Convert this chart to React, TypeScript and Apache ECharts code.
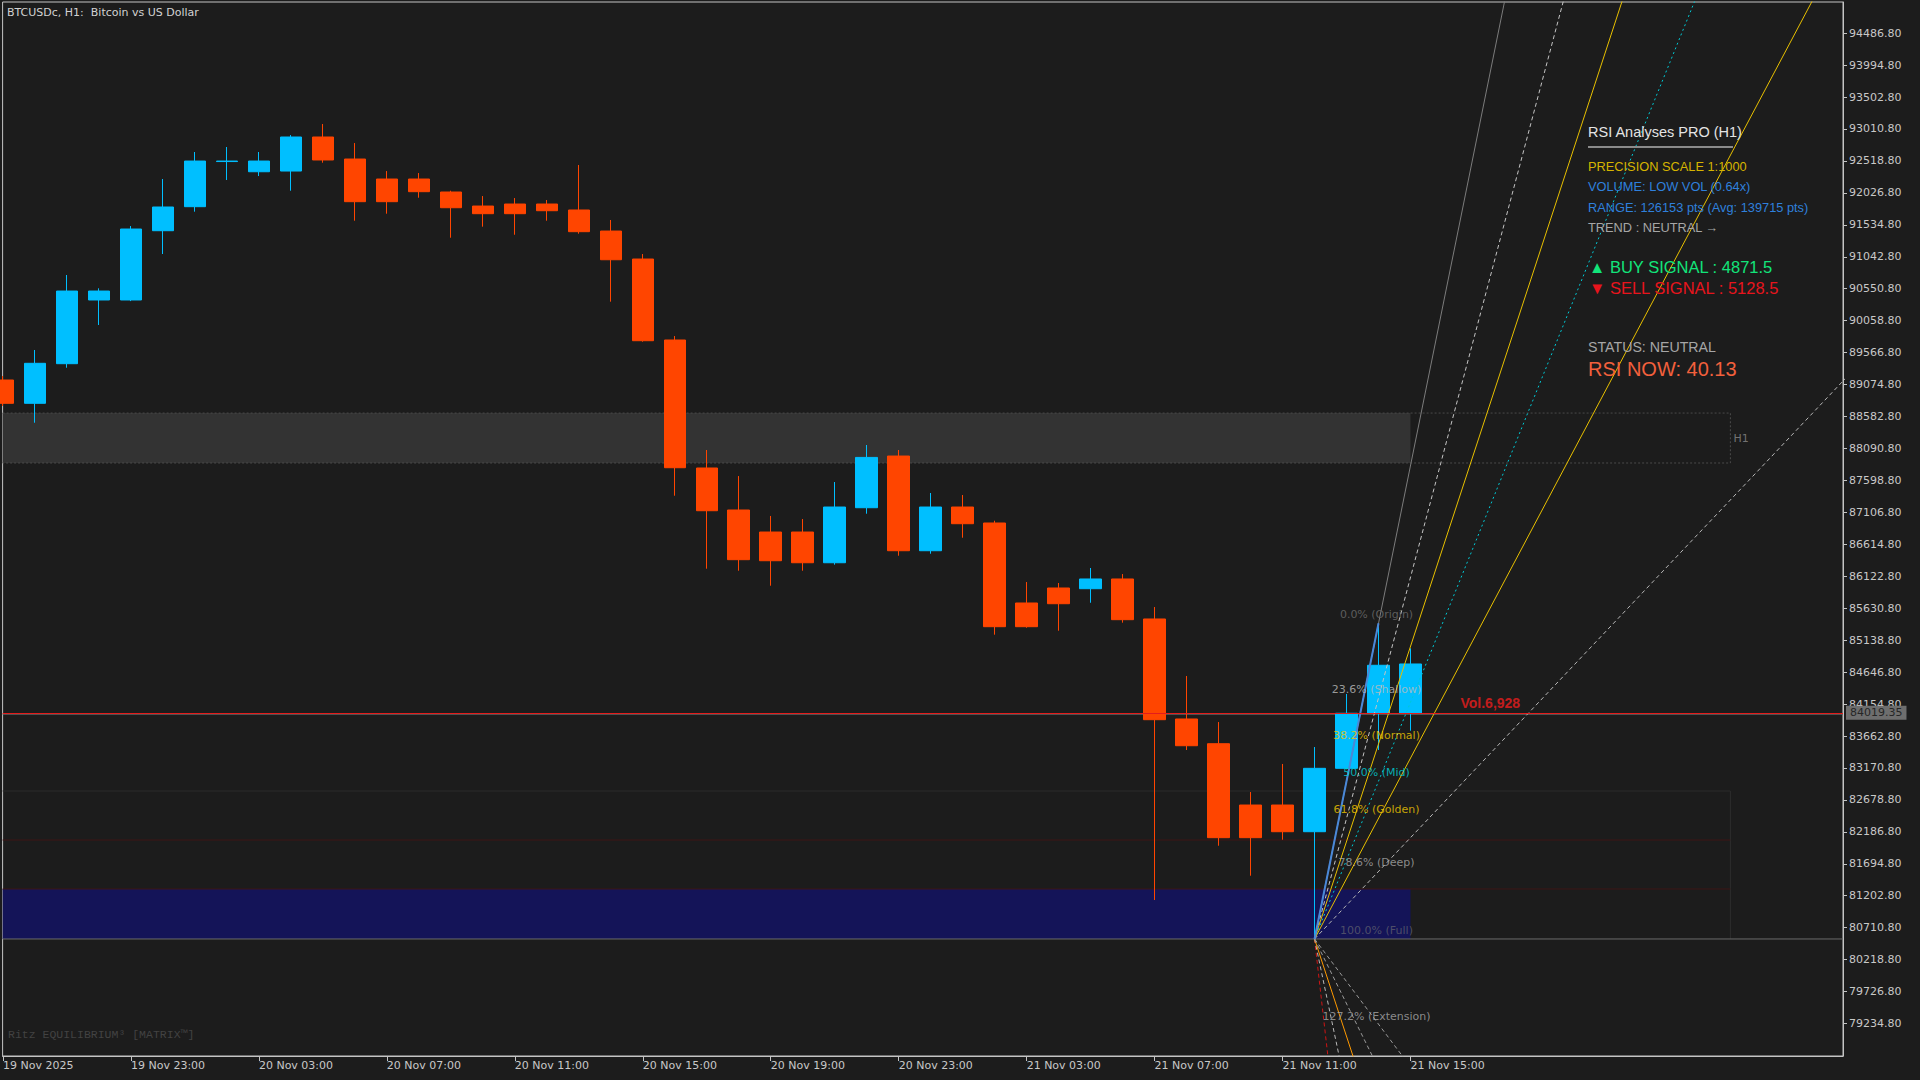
import React, { useEffect, useRef } from 'react';
import * as echarts from 'echarts';

// ---------- data ----------
const timeLabels = ['19 Nov 2025', '19 Nov 23:00', '20 Nov 03:00', '20 Nov 07:00', '20 Nov 11:00', '20 Nov 15:00', '20 Nov 19:00', '20 Nov 23:00', '21 Nov 03:00', '21 Nov 07:00', '21 Nov 11:00', '21 Nov 15:00'];
const timeLabelIndex = [0, 4, 8, 12, 16, 20, 24, 28, 32, 36, 40, 44];

const opens = [89145, 88786, 89396, 90377, 90377, 91444, 91814, 92509, 92352, 92363, 92887, 92548, 92240, 92240, 92040, 91824, 91855, 91855, 91763, 91439, 91008, 89761, 87790, 87143, 86804, 86804, 86331, 87178, 87974, 86516, 87189, 86943, 85711, 85942, 85931, 86081, 85465, 83925, 83544, 82600, 82600, 82189, 83165, 84013, 84013];
const closes = [88786, 89402, 90515, 90515, 91470, 91809, 92517, 92517, 92517, 92887, 92533, 91891, 91891, 92045, 91798, 91706, 91706, 91752, 91429, 90997, 89750, 87794, 87132, 86378, 86362, 86331, 87189, 87953, 86516, 87189, 86932, 85346, 85346, 85700, 86081, 85454, 83914, 83513, 82097, 82097, 82189, 83165, 84013, 84752, 84772];
const lows = [88745, 88487, 89334, 89992, 90360, 91085, 91737, 92225, 92286, 92060, 92491, 91598, 91706, 91952, 91336, 91506, 91382, 91598, 91398, 90351, 89735, 87363, 86239, 86208, 85977, 86208, 86301, 87086, 86439, 86470, 86716, 85223, 85330, 85284, 85715, 85408, 81137, 83447, 81973, 81511, 82066, 80537, 83150, 83447, 83744];
const highs = [89206, 89607, 90762, 90557, 91516, 92240, 92656, 92733, 92656, 92917, 93087, 92794, 92363, 92332, 92060, 91978, 91947, 91917, 92456, 91609, 91085, 89822, 88067, 87666, 87051, 87004, 87574, 88144, 88067, 87405, 87374, 86978, 86034, 86019, 86250, 86157, 85649, 84587, 83878, 82800, 83232, 83493, 84310, 85398, 85013];

const priceTicks = [79234.8, 79726.8, 80218.8, 80710.8, 81202.8, 81694.8, 82186.8, 82678.8, 83170.8, 83662.8, 84154.8, 84646.8, 85138.8, 85630.8, 86122.8, 86614.8, 87106.8, 87598.8, 88090.8, 88582.8, 89074.8, 89566.8, 90058.8, 90550.8, 91042.8, 91534.8, 92026.8, 92518.8, 93010.8, 93502.8, 93994.8, 94486.8];

const currentPrice = 84019.35;
const askPrice = 83997;
const volumeLabel = 'Vol.6,928';

const fibLowIndex = 41;
const fibHighIndex = 43;
const fibLevels = [0, 0.236, 0.382, 0.5, 0.618, 0.786, 1, 1.272];
const fibNames = ['0.0% (Origin)', '23.6% (Shallow)', '38.2% (Normal)', '50.0% (Mid)', '61.8% (Golden)', '78.6% (Deep)', '100.0% (Full)', '127.2% (Extension)'];
const fibLabelColors = ['#6e6e6e', '#bcbcbc', '#f2c800', '#00d4dc', '#f2c800', '#a8a8a8', '#5e5e6e', '#a8a8a8'];
const fanLevels = [0, 0.236, 0.382, 0.5, 0.618, 0.786];
const fanColors = ['#7c7c7c', '#c4c4c4', '#e8c000', '#00c8d4', '#e8c000', '#b8b8b8'];
const fanDash: any[] = ['solid', [4, 3], 'solid', [2, 3], 'solid', [4, 3]];
const extRatios = [1.78, 0.965, 0.617, 0.41, 0.27];
const extColors = ['#d01414', '#b8b8b8', '#ff9a00', '#9a9a9a', '#9a9a9a'];
const extDash: any[] = [[4, 3], [4, 3], 'solid', [4, 3], [4, 3]];

const supplyZone = [88636, 87867];
const demandZone = [82816, 80537];
const demandCore = [81307, 80537];
const demandLines = [82061, 81307];
const zoneFillEnd = 44;
const zoneBoxEnd = 54;

// ---------- layout ----------
const X_MIN = -0.0125;
const X_MAX = 57.52;
const Y_MIN = 78735;
const Y_MAX = 94966;
const AXIS_FONT = 'DejaVu Sans';
const PANEL_FONT = 'Liberation Sans';

function seg(id: string, pts: number[][], color: string, width = 1, type: any = 'solid', z = 3) {
  return {
    type: 'line', id, data: pts, showSymbol: false, symbol: 'none', silent: true, clip: true, z,
    lineStyle: { color, width, type }, animation: false,
  };
}

function buildOption() {
  const L = lows[fibLowIndex];
  const H = highs[fibHighIndex];
  const R = H - L;
  const dx = fibHighIndex - fibLowIndex;
  const T = 12;

  const candleData = opens.map((o, i) => [i, o, closes[i], lows[i], highs[i]]);

  const series: any[] = [];

  series.push({
    type: 'custom', id: 'zones', z: 1, silent: true, clip: true,
    renderItem: (_p: any, api: any) => {
      const p0 = api.coord([api.value(0), api.value(2)]);
      const p1 = api.coord([api.value(1), api.value(3)]);
      const fills = ['#333333', '#141458'];
      return {
        type: 'rect',
        shape: { x: p0[0], y: p0[1], width: p1[0] - p0[0], height: p1[1] - p0[1] },
        style: { fill: fills[api.value(4)] },
      };
    },
    encode: { x: [0, 1], y: [2, 3] },
    data: [
      [X_MIN, zoneFillEnd, supplyZone[0], supplyZone[1], 0],
      [X_MIN, zoneFillEnd, demandCore[0], demandCore[1], 1],
    ],
  });

  series.push(seg('supplyBox', [[X_MIN, supplyZone[0]], [zoneBoxEnd, supplyZone[0]], [zoneBoxEnd, supplyZone[1]], [X_MIN, supplyZone[1]]], '#4a4a4a', 1, [2, 2], 1));
  series.push(seg('demandBox', [[X_MIN, demandZone[0]], [zoneBoxEnd, demandZone[0]], [zoneBoxEnd, demandZone[1]]], '#2c2c2c', 1, 'solid', 1));
  demandLines.forEach((v, i) => series.push(seg('demandLine' + i, [[X_MIN, v], [zoneBoxEnd, v]], '#3e1616', 1, 'solid', 1)));
  series.push(seg('fullLine', [[X_MIN, L], [X_MAX, L]], '#6a6a6a', 1, 'solid', 1));
  series.push(seg('askLine', [[X_MIN, askPrice], [X_MAX, askPrice]], '#5e5e5e', 1, 'solid', 1));

  series.push({
    type: 'candlestick', id: 'candles', z: 2,
    dimensions: ['idx', 'open', 'close', 'lowest', 'highest'],
    encode: { x: 'idx', y: ['open', 'close', 'lowest', 'highest'] },
    data: candleData,
    barWidth: 22,
    clip: true,
    itemStyle: { color: '#00bfff', color0: '#ff4500', borderColor: '#00bfff', borderColor0: '#ff4500', borderWidth: 1 },
    markLine: {
      silent: true, symbol: 'none', animation: false,
      lineStyle: { color: '#e41c1c', width: 1, type: 'solid' },
      label: {
        show: true, position: 'end', distance: 3,
        formatter: currentPrice.toFixed(2),
        backgroundColor: '#6e6e6e', color: '#262626', padding: [2, 4, 1, 4],
        fontFamily: AXIS_FONT, fontSize: 11,
      },
      data: [{ yAxis: currentPrice }],
    },
  });

  fanLevels.forEach((p, i) => {
    series.push(seg('fan' + i, [[fibLowIndex, L], [fibLowIndex + dx * T, L + T * (1 - p) * R]], fanColors[i], 1, fanDash[i], 3));
  });
  extRatios.forEach((q, i) => {
    series.push(seg('ext' + i, [[fibLowIndex, L], [fibLowIndex + dx * T, L - T * q * R]], extColors[i], 1, extDash[i], 3));
  });
  series.push(seg('swing', [[fibLowIndex, L], [fibHighIndex, H]], '#4a88d8', 2, 'solid', 4));

  series.push({
    type: 'scatter', id: 'fibLabels', z: 5, silent: true, symbolSize: 0,
    data: fibLevels.map((p, i) => ({
      value: [fibHighIndex, H - p * R],
      label: { formatter: fibNames[i], color: fibLabelColors[i] },
    })),
    label: { show: true, position: 'inside', offset: [-2, -8.5], fontFamily: AXIS_FONT, fontSize: 11 },
  });

  series.push({
    type: 'scatter', id: 'misc', z: 5, silent: true, symbolSize: 0,
    data: [
      { value: [zoneBoxEnd, (supplyZone[0] + supplyZone[1]) / 2], label: { formatter: 'H1', color: '#8a8a8a', fontFamily: AXIS_FONT, fontSize: 11, offset: [3, 0] } },
      { value: [45.5, currentPrice], label: { formatter: volumeLabel, color: '#f01c1c', fontFamily: PANEL_FONT, fontSize: 14, fontWeight: 'bold', offset: [2, -10] } },
    ],
    label: { show: true, position: 'inside', align: 'left' },
  });

  const txt = (text: string, x: number, y: number, fill: string, size: number, family = PANEL_FONT, weight = 'normal') => ({
    type: 'text', x, y, silent: true, z: 10,
    style: { text, fill, fontSize: size, fontFamily: family, fontWeight: weight, verticalAlign: 'middle', align: 'left' },
  });

  const graphic = [
    txt('BTCUSDc, H1:  Bitcoin vs US Dollar', 7, 12, '#d2d2d2', 11, AXIS_FONT),
    txt('RSI Analyses PRO (H1)', 1588, 132, '#e4e4e4', 14.5),
    { type: 'line', silent: true, z: 10, shape: { x1: 1588, y1: 147, x2: 1733, y2: 147 }, style: { stroke: '#8a8a8a', lineWidth: 2 } },
    txt('PRECISION SCALE 1:1000', 1588, 166, '#d6b400', 12.8),
    txt('VOLUME: LOW VOL (0.64x)', 1588, 186, '#2f80dc', 12.8),
    txt('RANGE: 126153 pts (Avg: 139715 pts)', 1588, 207, '#2f80dc', 12.8),
    txt('TREND : NEUTRAL \u2192', 1588, 227, '#a6a6a6', 12.8),
    txt('\u25B2 BUY SIGNAL : 4871.5', 1589, 267, '#12e47a', 16.5),
    txt('\u25BC SELL SIGNAL : 5128.5', 1589, 288, '#e8141c', 16.5),
    txt('STATUS: NEUTRAL', 1588, 347, '#a6a6a6', 14.2),
    txt('RSI NOW: 40.13', 1588, 369, '#f2603c', 20),
    txt('Ritz EQUILIBRIUM\u00B3 [MATRIX\u2122]', 8, 1034, '#424242', 11.5, 'Liberation Mono'),
  ];

  return {
    animation: false,
    backgroundColor: '#1c1c1c',
    grid: { left: 2, top: 2, width: 1841, height: 1054, show: true, borderColor: '#c4c4c4', borderWidth: 1, backgroundColor: 'transparent' },
    xAxis: {
      type: 'value', min: X_MIN, max: X_MAX, position: 'bottom',
      axisLine: { show: true, onZero: false, lineStyle: { color: '#c4c4c4' } },
      axisTick: { show: true, length: 5, lineStyle: { color: '#c4c4c4' }, customValues: timeLabelIndex },
      axisLabel: {
        show: true, customValues: timeLabelIndex, align: 'left', margin: 4,
        color: '#c8c8c8', fontFamily: AXIS_FONT, fontSize: 11,
        formatter: (v: number) => timeLabels[timeLabelIndex.indexOf(Math.round(v))] ?? '',
      },
      splitLine: { show: false },
    },
    yAxis: {
      type: 'value', min: Y_MIN, max: Y_MAX, position: 'right',
      axisLine: { show: true, onZero: false, lineStyle: { color: '#c4c4c4' } },
      axisTick: { show: true, length: 4, lineStyle: { color: '#c4c4c4' }, customValues: priceTicks },
      axisLabel: {
        show: true, customValues: priceTicks, margin: 6,
        color: '#c8c8c8', fontFamily: AXIS_FONT, fontSize: 11,
        formatter: (v: number) => v.toFixed(2),
      },
      splitLine: { show: false },
    },
    series,
    graphic,
  };
}

export default function App() {
  const ref = useRef<HTMLDivElement>(null);
  useEffect(() => {
    if (!ref.current) return;
    const chart = echarts.init(ref.current, null, { renderer: 'svg' });
    chart.setOption(buildOption() as any);
    return () => chart.dispose();
  }, []);
  return (
    <div
      ref={ref}
      style={{ position: 'fixed', left: 0, top: 0, width: 1920, height: 1080, background: '#1c1c1c' }}
    />
  );
}
